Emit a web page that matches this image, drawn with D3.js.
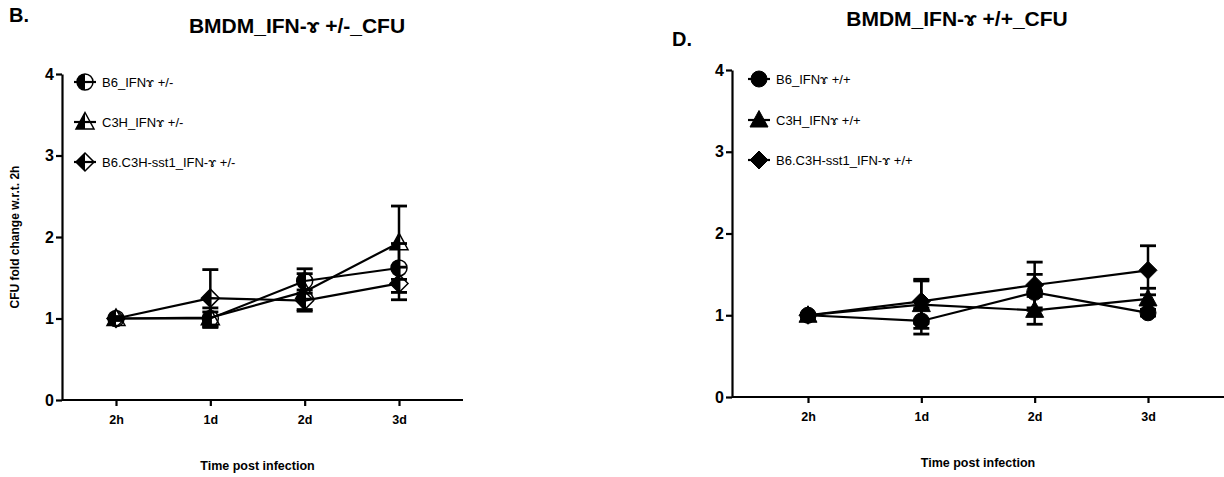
<!DOCTYPE html>
<html>
<head>
<meta charset="utf-8">
<script src="https://cdn.jsdelivr.net/npm/d3@7"></script>
<style>
  body { margin: 0; background: #fff; }
  text { font-family: "Liberation Sans", Arial, sans-serif; }
</style>
</head>
<body>
<div id="chart"></div>
<script>
// time points shared by both panels
var timeLabels = ["2h", "1d", "2d", "3d"];
var yTicks = [0, 1, 2, 3, 4];

// panel B: IFN-gamma +/-
var hetNames = ["B6_IFN\u0264 +/-", "C3H_IFN\u0264 +/-", "B6.C3H-sst1_IFN-\u0264 +/-"];
var b6Het = [1.0, 1.00, 1.46, 1.62];
var b6HetErr = [0.02, 0.08, 0.15, 0.30];
var c3hHet = [1.0, 1.01, 1.33, 1.93];
var c3hHetErr = [0.02, 0.12, 0.22, 0.45];
var sstHet = [1.0, 1.25, 1.22, 1.43];
var sstHetErr = [0.02, 0.35, 0.13, 0.20];

// panel D: IFN-gamma +/+
var wtNames = ["B6_IFN\u0264 +/+", "C3H_IFN\u0264 +/+", "B6.C3H-sst1_IFN-\u0264 +/+"];
var b6Wt = [1.0, 0.93, 1.28, 1.03];
var b6WtErr = [0.02, 0.16, 0.22, 0.04];
var c3hWt = [1.0, 1.13, 1.06, 1.20];
var c3hWtErr = [0.02, 0.29, 0.17, 0.13];
var sstWt = [1.0, 1.17, 1.37, 1.55];
var sstWtErr = [0.02, 0.27, 0.28, 0.30];

var svg = d3.select("#chart").append("svg")
  .attr("width", 1224)
  .attr("height", 477);

// marker paths (full outline and left half)
var R = 8;
var shapes = {
  circle: {
    full: "M0," + (-R) + "A" + R + "," + R + " 0 1,1 0," + R + "A" + R + "," + R + " 0 1,1 0," + (-R) + "Z",
    half: "M0," + (-R) + "A" + R + "," + R + " 0 0,0 0," + R + "Z"
  },
  triangle: {
    full: "M0,-9.5L9,7L-9,7Z",
    half: "M0,-9.5L-9,7L0,7Z"
  },
  diamond: {
    full: "M0,-9L9,0L0,9L-9,0Z",
    half: "M0,-9L-9,0L0,9Z"
  }
};
var shapeOrder = ["circle", "triangle", "diamond"];

function drawMarker(g, shape, x, y, halfFilled) {
  var m = g.append("g").attr("transform", "translate(" + x + "," + y + ")");
  if (halfFilled) {
    m.append("path").attr("d", shapes[shape].full)
      .attr("fill", "none").attr("stroke", "#000").attr("stroke-width", 1.5);
    m.append("path").attr("d", shapes[shape].half).attr("fill", "#000");
  } else {
    m.append("path").attr("d", shapes[shape].full)
      .attr("fill", "#000").attr("stroke", "#000").attr("stroke-width", 1);
  }
}

function drawPanel(cfg) {
  // first and last time point positions, axis line runs wider
  var x = d3.scalePoint()
    .domain(timeLabels)
    .range([cfg.firstX, cfg.lastX]);

  var y = d3.scaleLinear()
    .domain([0, 4])
    .range([cfg.bottom, cfg.top]);

  // X axis
  var xa = svg.append("g")
    .attr("transform", "translate(0," + cfg.bottom + ")")
    .call(d3.axisBottom(x).tickSize(6).tickSizeOuter(0).tickPadding(9));
  xa.select(".domain")
    .attr("d", "M" + cfg.left + ",0H" + cfg.right)
    .attr("stroke-width", 2.2);
  xa.selectAll(".tick line").attr("stroke-width", 2.2);
  xa.selectAll("text")
    .style("font-size", "12.5px").style("font-weight", "bold")
    .style("font-family", "'Liberation Sans', Arial, sans-serif");

  // Y axis
  var ya = svg.append("g")
    .attr("transform", "translate(" + cfg.left + ",0)")
    .call(d3.axisLeft(y).tickValues(yTicks).tickFormat(d3.format("d"))
      .tickSize(6).tickSizeOuter(0).tickPadding(2));
  ya.select(".domain").attr("stroke-width", 2.2);
  ya.selectAll(".tick line").attr("stroke-width", 2.2);
  ya.selectAll("text")
    .style("font-size", "16px").style("font-weight", "bold")
    .style("font-family", "'Liberation Sans', Arial, sans-serif");

  var plot = svg.append("g");

  // series lines
  cfg.series.forEach(function(s) {
    var line = d3.line()
      .x(function(d, i) { return x(timeLabels[i]); })
      .y(function(d) { return y(d); });
    plot.append("path")
      .datum(s.values)
      .attr("d", line)
      .attr("fill", "none")
      .attr("stroke", "#000")
      .attr("stroke-width", 2.2);
  });

  // error bars
  cfg.series.forEach(function(s) {
    s.values.forEach(function(v, i) {
      var cx = x(timeLabels[i]);
      var lo = y(v - s.err[i]), hi = y(v + s.err[i]);
      plot.append("line")
        .attr("x1", cx).attr("x2", cx).attr("y1", lo).attr("y2", hi)
        .attr("stroke", "#000").attr("stroke-width", 2.5);
      [lo, hi].forEach(function(yy) {
        plot.append("line")
          .attr("x1", cx - 8).attr("x2", cx + 8).attr("y1", yy).attr("y2", yy)
          .attr("stroke", "#000").attr("stroke-width", 2.8);
      });
    });
  });

  // markers
  cfg.series.forEach(function(s, k) {
    s.values.forEach(function(v, i) {
      drawMarker(plot, shapeOrder[k], x(timeLabels[i]), y(v), cfg.half);
    });
  });

  // legend
  cfg.series.forEach(function(s, k) {
    var ly = cfg.legendY[k];
    svg.append("line")
      .attr("x1", cfg.legendX - 11).attr("x2", cfg.legendX + 11)
      .attr("y1", ly).attr("y2", ly)
      .attr("stroke", "#000").attr("stroke-width", 2.2);
    drawMarker(svg, shapeOrder[k], cfg.legendX, ly, cfg.half);
    svg.append("text")
      .attr("x", cfg.legendX + 17)
      .attr("y", ly + 4.5)
      .style("font-size", "13px")
      .text(s.name);
  });

  // title
  svg.append("text")
    .attr("x", cfg.titleX)
    .attr("y", cfg.titleY)
    .attr("text-anchor", "middle")
    .style("font-size", "21px").style("font-weight", "bold")
    .text(cfg.title);

  // panel letter
  svg.append("text")
    .attr("x", cfg.letterX)
    .attr("y", cfg.letterY)
    .style("font-size", "20px").style("font-weight", "bold")
    .text(cfg.letter);

  // x axis label
  svg.append("text")
    .attr("x", (cfg.firstX + cfg.lastX) / 2)
    .attr("y", cfg.bottom + 70)
    .attr("text-anchor", "middle")
    .style("font-size", "12.5px").style("font-weight", "bold")
    .text("Time post infection");

  return y;
}

drawPanel({
  left: 62, right: 463, firstX: 116, lastX: 399, top: 74, bottom: 400,
  half: true,
  title: "BMDM_IFN-\u0264 +/-_CFU", titleX: 297, titleY: 33,
  letter: "B.", letterX: 9, letterY: 22,
  legendX: 85, legendY: [82, 122, 162],
  series: [
    {name: hetNames[0], values: b6Het, err: b6HetErr},
    {name: hetNames[1], values: c3hHet, err: c3hHetErr},
    {name: hetNames[2], values: sstHet, err: sstHetErr}
  ]
});

drawPanel({
  left: 732, right: 1224, firstX: 808, lastX: 1148, top: 70, bottom: 397,
  half: false,
  title: "BMDM_IFN-\u0264 +/+_CFU", titleX: 957, titleY: 26,
  letter: "D.", letterX: 672, letterY: 46,
  legendX: 759, legendY: [79, 120, 160],
  series: [
    {name: wtNames[0], values: b6Wt, err: b6WtErr},
    {name: wtNames[1], values: c3hWt, err: c3hWtErr},
    {name: wtNames[2], values: sstWt, err: sstWtErr}
  ]
});

// y axis label, left panel only
svg.append("text")
  .attr("transform", "translate(19," + ((74 + 400) / 2) + ") rotate(-90)")
  .attr("text-anchor", "middle")
  .style("font-size", "12px").style("font-weight", "bold")
  .text("CFU fold change w.r.t. 2h");
</script>
</body>
</html>
